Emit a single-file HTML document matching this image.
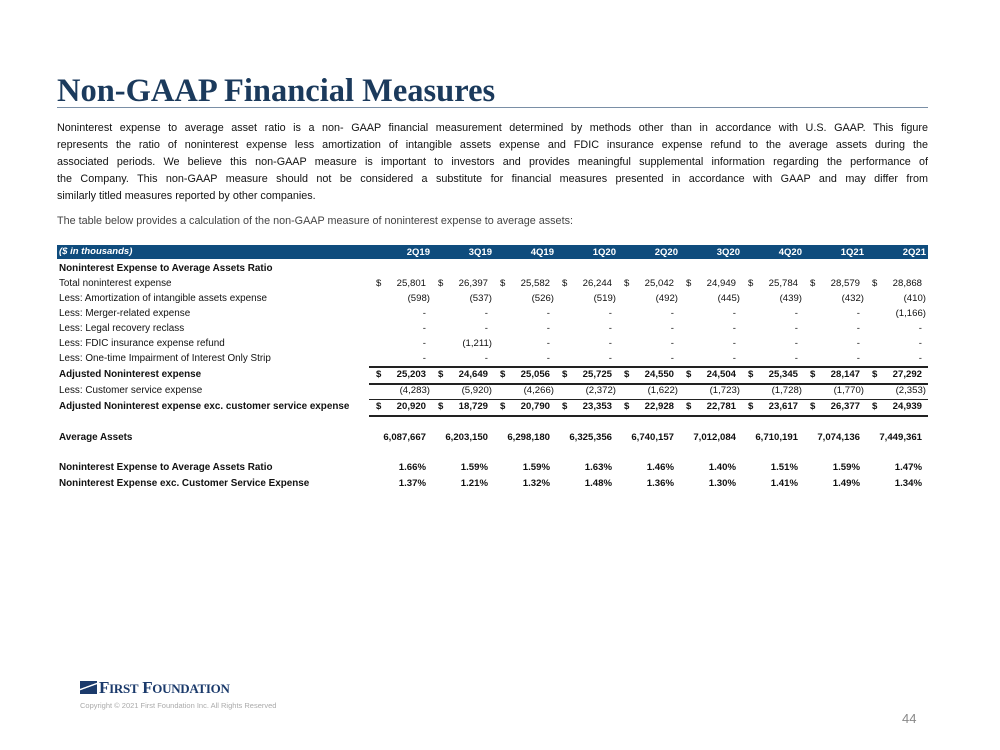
<!DOCTYPE html>
<html><head><meta charset="utf-8"><style>
body{margin:0;width:1000px;height:750px;background:#fff;position:relative;overflow:hidden;font-family:"Liberation Sans",sans-serif;color:#111}
.a{position:absolute;white-space:nowrap}
.t{font-size:10px}
.b{font-weight:bold}
.r{text-align:right}
.ln{position:absolute;left:369px;width:559px;background:#222}
.pl{position:absolute;left:57px;width:871px;font-size:10.8px;text-align:justify;text-align-last:justify;white-space:nowrap;color:#111}
</style></head><body>
<div class="a" style="left:57px;top:73px;font-family:'Liberation Serif',serif;font-size:32.5px;font-weight:bold;color:#1b3a5c">Non-GAAP Financial Measures</div>
<div class="a" style="left:57px;top:107px;width:871px;height:1px;background:#7a8fa6"></div>
<div>
<div class="pl" style="top:122px">Noninterest expense to average asset ratio is a non- GAAP financial measurement determined by methods other than in accordance with U.S. GAAP. This figure</div>
<div class="pl" style="top:139px">represents the ratio of noninterest expense less amortization of intangible assets expense and FDIC insurance expense refund to the average assets during the</div>
<div class="pl" style="top:156px">associated periods. We believe this non-GAAP measure is important to investors and provides meaningful supplemental information regarding the performance of</div>
<div class="pl" style="top:173px">the Company. This non-GAAP measure should not be considered a substitute for financial measures presented in accordance with GAAP and may differ from</div>
<div class="pl" style="top:190px;text-align-last:left">similarly titled measures reported by other companies.</div>
</div>
<div class="a" style="left:57px;top:215px;font-size:10.8px;color:#444">The table below provides a calculation of the non-GAAP measure of noninterest expense to average assets:</div>
<div class="a" style="left:57px;top:245px;width:871px;height:14px;background:#0f4c7d"></div>
<div id="tbl"></div>
<div class="ln" style="top:366px;height:1.5px"></div>
<div class="ln" style="top:383px;height:2px"></div>
<div class="ln" style="top:399px;height:1px"></div>
<div class="ln" style="top:415px;height:2px"></div>
<div class="a" style="left:80px;top:678px;font-family:'Liberation Serif',serif;font-size:17px;font-weight:bold;color:#1b3a6b;letter-spacing:-0.3px"><span style="display:inline-block;width:17px;height:13px;background:linear-gradient(160deg,#1b3a6b 40%,#fff 42%,#fff 48%,#1b3a6b 50%);vertical-align:-1px;margin-right:2px"></span>F<span style="font-size:13px">IRST</span> F<span style="font-size:13px">OUNDATION</span></div>
<div class="a" style="left:80px;top:701px;font-size:7.5px;color:#aaa">Copyright © 2021 First Foundation Inc. All Rights Reserved</div>
<div class="a" style="left:902px;top:711px;font-size:13px;color:#888">44</div>
<script>
const quarters=["2Q19","3Q19","4Q19","1Q20","2Q20","3Q20","4Q20","1Q21","2Q21"];
const colRight=[426,488,550,612,674,736,798,860,922];
const rowLabels=["Noninterest Expense to Average Assets Ratio","Total noninterest expense","Less: Amortization of intangible assets expense","Less: Merger-related expense","Less: Legal recovery reclass","Less: FDIC insurance expense refund","Less: One-time Impairment of Interest Only Strip","Adjusted Noninterest expense","Less: Customer service expense","Adjusted Noninterest expense exc. customer service expense","Average Assets","Noninterest Expense to Average Assets Ratio","Noninterest Expense exc. Customer Service Expense"];
const rowTops=[263,278,293,308,323,338,353,369,385,401,432,462,478];
const rowBold=[1,0,0,0,0,0,0,1,0,1,1,1,1];
const rowDollar=[0,1,0,0,0,0,0,1,0,1,0,0,0];
const totalExp=["25,801","26,397","25,582","26,244","25,042","24,949","25,784","28,579","28,868"];
const amort=["(598)","(537)","(526)","(519)","(492)","(445)","(439)","(432)","(410)"];
const merger=["-","-","-","-","-","-","-","-","(1,166)"];
const legal=["-","-","-","-","-","-","-","-","-"];
const fdic=["-","(1,211)","-","-","-","-","-","-","-"];
const impair=["-","-","-","-","-","-","-","-","-"];
const adjusted=["25,203","24,649","25,056","25,725","24,550","24,504","25,345","28,147","27,292"];
const custSvc=["(4,283)","(5,920)","(4,266)","(2,372)","(1,622)","(1,723)","(1,728)","(1,770)","(2,353)"];
const adjExc=["20,920","18,729","20,790","23,353","22,928","22,781","23,617","26,377","24,939"];
const avgAssets=["6,087,667","6,203,150","6,298,180","6,325,356","6,740,157","7,012,084","6,710,191","7,074,136","7,449,361"];
const ratio=["1.66%","1.59%","1.59%","1.63%","1.46%","1.40%","1.51%","1.59%","1.47%"];
const ratioExc=["1.37%","1.21%","1.32%","1.48%","1.36%","1.30%","1.41%","1.49%","1.34%"];
const rowValues=[null,totalExp,amort,merger,legal,fdic,impair,adjusted,custSvc,adjExc,avgAssets,ratio,ratioExc];
const T=document.getElementById('tbl');
function mk(txt,x,y,cls,st){const d=document.createElement('div');d.className='a t '+cls;d.textContent=txt;d.style.left=x+'px';d.style.top=y+'px';if(st)d.style.cssText+=st;T.appendChild(d);return d;}
const h=mk("($ in thousands)",59,246,'b','color:#fff;font-style:italic;font-size:9.5px');


quarters.forEach((q,i)=>{const d=mk(q,colRight[i]+4-40,247,'b r','color:#fff;width:40px;font-size:9.5px');

});
rowLabels.forEach((lab,r)=>{
const y=rowTops[r];
const l=mk(lab,59,y,rowBold[r]?'b':'','font-size:9.9px');


const vals=rowValues[r];if(!vals)return;
vals.forEach((v,i)=>{
const paren=v.startsWith('(');
const d=mk(v,colRight[i]-70+(paren?4:0),y,(rowBold[r]?'b ':'')+'r','width:70px;font-size:9.6px');


if(rowDollar[r]){const s=mk('$',colRight[i]-50,y,rowBold[r]?'b':'','font-size:9.6px');

}
});});
</script>
</body></html>
